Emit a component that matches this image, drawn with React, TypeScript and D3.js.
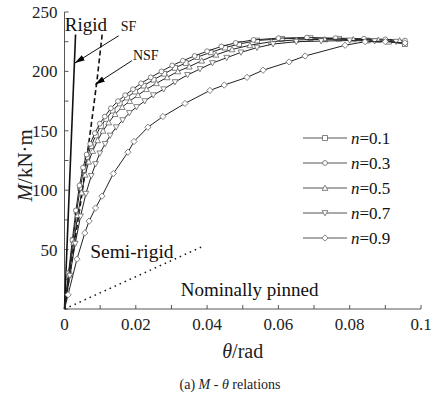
import React from "react";
import * as d3 from "d3";

const W = 435, H = 401;

const xTicks = [0, 0.02, 0.04, 0.06, 0.08, 0.1];
const xMinorTicks = [0, 0.01, 0.02, 0.03, 0.04, 0.05, 0.06, 0.07, 0.08, 0.09, 0.1];
const yTicks = [50, 100, 150, 200, 250];
const yMinorTicks = [0, 25, 50, 75, 100, 125, 150, 175, 200, 225, 250];

const seriesNames = ["0.1", "0.3", "0.5", "0.7", "0.9"];
const markerTypes = ["square", "circle", "triangleUp", "triangleDown", "diamond"];

const theta01 = [0, 0.0012, 0.0024, 0.0034, 0.0044, 0.0054, 0.0064, 0.0074, 0.0088, 0.0102, 0.0117, 0.0135, 0.0155, 0.0175, 0.0198, 0.0222, 0.025, 0.028, 0.031, 0.034, 0.0372, 0.041, 0.045, 0.049, 0.054, 0.061, 0.069, 0.077, 0.085, 0.091, 0.0955];
const m01 = [0, 30, 58, 82, 102, 117, 128, 137, 146, 154, 160, 167, 173, 178, 183, 188, 193, 198, 203, 207, 212, 216, 220, 223, 226, 227.5, 228, 227.5, 226, 225, 223];

const theta03 = [0, 0.0011, 0.0022, 0.0032, 0.0042, 0.0052, 0.0062, 0.0072, 0.0085, 0.0099, 0.0113, 0.013, 0.015, 0.017, 0.0192, 0.0215, 0.0242, 0.0272, 0.0302, 0.0332, 0.0365, 0.040, 0.044, 0.048, 0.053, 0.060, 0.068, 0.076, 0.084, 0.090, 0.0955];
const m03 = [0, 30, 58, 83, 104, 119, 130, 139, 148, 156, 162, 169, 175, 180, 185, 190, 195, 200, 205, 209, 213, 217, 221, 224, 226.5, 228, 228.5, 228, 227.5, 227, 226];

const theta05 = [0, 0.0013, 0.0026, 0.0037, 0.0048, 0.0058, 0.0068, 0.0079, 0.0093, 0.0108, 0.0124, 0.0142, 0.0162, 0.0183, 0.0206, 0.023, 0.0258, 0.0288, 0.0318, 0.035, 0.0385, 0.0425, 0.047, 0.052, 0.058, 0.065, 0.073, 0.081, 0.088, 0.094];
const m05 = [0, 29, 56, 79, 98, 113, 124, 133, 142, 150, 157, 164, 170, 175, 180, 185, 190, 195, 200, 204, 209, 214, 218.5, 222, 225, 226.5, 227, 227, 226.5, 226];

const theta07 = [0, 0.0015, 0.003, 0.0045, 0.006, 0.0075, 0.0087, 0.0099, 0.0114, 0.0128, 0.0145, 0.0163, 0.0182, 0.0202, 0.0225, 0.0249, 0.0278, 0.031, 0.0345, 0.038, 0.0415, 0.0455, 0.0495, 0.054, 0.0585, 0.065, 0.072, 0.08, 0.087, 0.093];
const m07 = [0, 28, 55, 78, 97, 112, 122, 131, 139, 146, 153, 159, 165, 170, 175, 180, 185, 191, 197, 202, 207, 211.5, 216, 220, 223, 225, 225.5, 226, 225.5, 225];

const theta09 = [0, 0.001, 0.0035, 0.0057, 0.0069, 0.0087, 0.0105, 0.0137, 0.0178, 0.0195, 0.0234, 0.0276, 0.0338, 0.0408, 0.0448, 0.0512, 0.0557, 0.063, 0.0675, 0.0787, 0.0843, 0.09, 0.0955];
const m09 = [0, 12, 42, 64, 74, 85, 95, 114, 132, 141, 153, 162, 173, 184, 188.5, 195, 201, 208, 213, 222, 225, 225, 224];

const seriesTheta = [theta01, theta03, theta05, theta07, theta09];
const seriesM = [m01, m03, m05, m07, m09];

const rigidTheta = [0, 0.0031];
const rigidM = [0, 231];
const sfTheta = [0, 0.0048, 0.0075, 0.0091, 0.0106];
const sfM = [0, 95, 155, 192, 232];
const pinTheta = [0, 0.039];
const pinM = [0, 53];

// annotation anchors in data coordinates
const labels = [
  { text: "Rigid", t: 0.0001, m: 234, size: 19 },
  { text: "SF", t: 0.0158, m: 234, size: 14 },
  { text: "NSF", t: 0.0192, m: 210, size: 14 },
  { text: "Semi-rigid", t: 0.0072, m: 43, size: 19.5 },
  { text: "Nominally pinned", t: 0.0326, m: 11, size: 19 },
];
const arrows = [
  { t0: 0.0152, m0: 230, t1: 0.0029, m1: 207 },
  { t0: 0.0189, m0: 209, t1: 0.0086, m1: 189 },
];

const FONT = "'Liberation Serif', 'Times New Roman', serif";

function Marker({ type, x, y }: { type: string; x: number; y: number }) {
  const r = 2.4;
  const common = { fill: "#fff", stroke: "#666", strokeWidth: 0.8 };
  if (type === "square") return <rect x={x - r} y={y - r} width={2 * r} height={2 * r} {...common} />;
  if (type === "circle") return <circle cx={x} cy={y} r={r} {...common} />;
  if (type === "triangleUp")
    return <path d={`M${x},${y - r * 1.2}L${x + r * 1.2},${y + r}L${x - r * 1.2},${y + r}Z`} {...common} />;
  if (type === "triangleDown")
    return <path d={`M${x},${y + r * 1.2}L${x + r * 1.2},${y - r}L${x - r * 1.2},${y - r}Z`} {...common} />;
  return <path d={`M${x},${y - r * 1.3}L${x + r * 1.3},${y}L${x},${y + r * 1.3}L${x - r * 1.3},${y}Z`} {...common} />;
}

export default function App() {
  const x = d3.scaleLinear().domain([0, 0.1]).range([64.5, 421]);
  const y = d3.scaleLinear().domain([0, 250]).range([309, 12]);
  const line = d3
    .line<[number, number]>()
    .x((d) => x(d[0]))
    .y((d) => y(d[1]));
  const zip = (a: number[], b: number[]) => a.map((v, i) => [v, b[i]] as [number, number]);

  const legendX0 = 303, legendY0 = 138, legendDy = 25;

  return (
    <svg width={W} height={H} style={{ position: "absolute", left: 0, top: 0, background: "#fff" }}>
      <defs>
        <marker id="ah" viewBox="0 0 10 6" refX="10" refY="3" markerWidth="10" markerHeight="6" orient="auto" markerUnits="userSpaceOnUse">
          <path d="M0,0L10,3L0,6Z" fill="#000" />
        </marker>
      </defs>
      {/* axes */}
      <line x1={x(0)} x2={x(0)} y1={y(0)} y2={y(250)} stroke="#444" strokeWidth={0.9} />
      <line x1={x(0)} x2={x(0.1)} y1={y(0)} y2={y(0)} stroke="#444" strokeWidth={0.9} />
      {yMinorTicks.map((t) => (
        <line key={"yt" + t} x1={x(0)} x2={x(0) + 4} y1={y(t)} y2={y(t)} stroke="#444" strokeWidth={0.9} />
      ))}
      {xMinorTicks.map((t) => (
        <line key={"xt" + t} x1={x(t)} x2={x(t)} y1={y(0)} y2={y(0) - 4} stroke="#444" strokeWidth={0.9} />
      ))}
      {yTicks.map((t) => (
        <text key={"yl" + t} x={x(0) - 7} y={y(t)} dy="0.35em" textAnchor="end" fontFamily={FONT} fontSize={17} fill="#222">
          {t}
        </text>
      ))}
      {xTicks.map((t) => (
        <text key={"xl" + t} x={x(t)} y={y(0) + 21} textAnchor="middle" fontFamily={FONT} fontSize={17} fill="#222">
          {d3.format("~g")(t)}
        </text>
      ))}
      {/* axis titles */}
      <text transform={`translate(32,${y(121)}) rotate(-90)`} textAnchor="middle" fontFamily={FONT} fontSize={21} fill="#222">
        <tspan fontStyle="italic">M</tspan>/kN·m
      </text>
      <text x={(x(0) + x(0.1)) / 2} y={358} textAnchor="middle" fontFamily={FONT} fontSize={20} fill="#222">
        <tspan fontStyle="italic">θ</tspan>/rad
      </text>
      <text x={230} y={389} textAnchor="middle" fontFamily={FONT} fontSize={14} fill="#222">
        (a) <tspan fontStyle="italic">M</tspan> - <tspan fontStyle="italic">θ</tspan> relations
      </text>

      {/* reference lines */}
      <path d={line(zip(rigidTheta, rigidM)) || ""} fill="none" stroke="#111" strokeWidth={1.6} />
      <path d={line(zip(sfTheta, sfM)) || ""} fill="none" stroke="#111" strokeWidth={1.6} strokeDasharray="5,3" />
      <path d={line(zip(pinTheta, pinM)) || ""} fill="none" stroke="#111" strokeWidth={1.5} strokeDasharray="1.5,4" />

      {/* series */}
      {seriesTheta.map((th, i) => (
        <g key={"s" + i}>
          <path d={line(zip(th, seriesM[i])) || ""} fill="none" stroke="#222" strokeWidth={1} />
          {th.map((t, j) => (j === 0 ? null : <Marker key={j} type={markerTypes[i]} x={x(t)} y={y(seriesM[i][j])} />))}
        </g>
      ))}

      {/* annotations */}
      {arrows.map((a, i) => (
        <line key={"ar" + i} x1={x(a.t0)} y1={y(a.m0)} x2={x(a.t1)} y2={y(a.m1)} stroke="#111" strokeWidth={1} markerEnd="url(#ah)" />
      ))}
      {labels.map((l) => (
        <text key={l.text} x={x(l.t)} y={y(l.m)} fontFamily={FONT} fontSize={l.size} fill="#111">
          {l.text}
        </text>
      ))}

      {/* legend */}
      {seriesNames.map((n, i) => (
        <g key={"lg" + i}>
          <line x1={legendX0} x2={legendX0 + 44} y1={legendY0 + i * legendDy} y2={legendY0 + i * legendDy} stroke="#555" strokeWidth={1} />
          <Marker type={markerTypes[i]} x={legendX0 + 22} y={legendY0 + i * legendDy} />
          <text x={legendX0 + 48} y={legendY0 + i * legendDy} dy="0.35em" fontFamily={FONT} fontSize={17} fill="#111">
            <tspan fontStyle="italic">n</tspan>={n}
          </text>
        </g>
      ))}
    </svg>
  );
}
